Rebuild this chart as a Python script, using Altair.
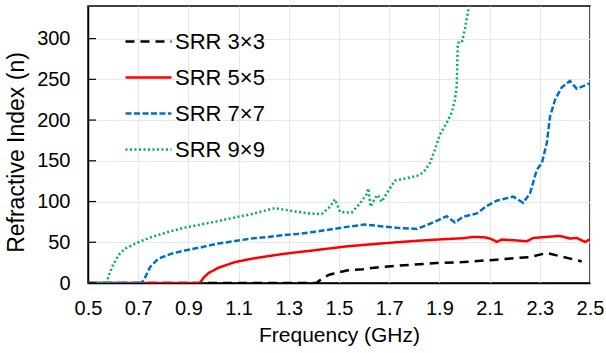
import altair as alt
import pandas as pd

series_names = ["SRR 3×3", "SRR 5×5", "SRR 7×7", "SRR 9×9"]

f_3 = [0.5, 1.41, 1.437, 1.464, 1.531, 1.597, 1.663, 1.73, 1.796, 1.889, 1.995, 2.128, 2.261, 2.328, 2.394, 2.467]
n_3 = [0, 0, 6.4, 10.5, 15.4, 17, 19.5, 21.2, 22.5, 24.4, 25.7, 28.6, 31.9, 36.8, 31.9, 26.5]

f_5 = [0.5, 0.946, 0.96, 0.979, 1.019, 1.086, 1.152, 1.218, 1.285, 1.398, 1.531, 1.663, 1.796, 1.902,
       1.995, 2.035, 2.08, 2.102, 2.12, 2.128, 2.148, 2.194, 2.248, 2.274, 2.328, 2.38, 2.42, 2.447, 2.48, 2.5]
n_5 = [0, 0, 6.4, 12, 18.7, 25.7, 29.8, 33, 36, 40, 45, 48.4, 51.5, 53.5,
       55, 56.6, 56, 54.5, 52, 50.4, 53.3, 52.5, 51.2, 55.3, 56.6, 57.8, 54.5, 55.3, 50.4, 53.7]

f_7 = [0.5, 0.714, 0.727, 0.747, 0.78, 0.833, 0.886, 0.953, 1.019, 1.086, 1.152, 1.218, 1.285, 1.331,
       1.398, 1.464, 1.531, 1.604, 1.663, 1.73, 1.81, 1.849, 1.896, 1.929, 1.962, 1.995, 2.049, 2.088,
       2.128, 2.194, 2.234, 2.261, 2.288, 2.308, 2.328, 2.341, 2.361, 2.387, 2.42, 2.447, 2.5]
n_7 = [0, 0, 6.4, 19.5, 29.8, 36, 40, 44, 48.4, 51.6, 54.6, 56.5, 59, 60,
       62.7, 65.7, 68.9, 71.8, 69.8, 67.7, 66.4, 71, 77.2, 82, 74.3, 81.3, 85.4, 94.4,
       101, 106, 98.5, 110, 139, 147, 172, 204.7, 225, 240, 248, 238.5, 245]

f_9 = [0.5, 0.574, 0.587, 0.601, 0.621, 0.647, 0.70, 0.754, 0.82, 0.886, 0.953, 1.019, 1.086, 1.152,
       1.218, 1.245, 1.265, 1.331, 1.384, 1.431, 1.464, 1.484, 1.504, 1.531, 1.551, 1.584, 1.61, 1.617,
       1.626, 1.643, 1.654, 1.67, 1.69, 1.723, 1.77, 1.81, 1.836, 1.862, 1.882, 1.902, 1.929, 1.949,
       1.962, 1.969, 1.971, 1.973, 1.978, 1.991, 2.002, 2.011, 2.018, 2.03]
n_9 = [0, 0, 13, 23, 34, 42, 50, 56.5, 62.7, 68, 72, 76, 80.5, 84.6,
       90, 92, 90.7, 87.4, 85.4, 84.6, 93.6, 102.7, 87.4, 86.6, 86.6, 97.8, 109, 116,
       93.6, 104, 108, 99.8, 110, 125.7, 128.6, 131.5, 135.6, 147, 163.6, 182, 196.5, 209,
       225, 241.7, 266, 291, 297, 297, 312, 328, 340, 360]

x_ticks = [0.5, 0.7, 0.9, 1.1, 1.3, 1.5, 1.7, 1.9, 2.1, 2.3, 2.5]
y_ticks = [0, 50, 100, 150, 200, 250, 300]

colors = ["#000000", "#FF0000", "#0070C0", "#00B050"]
dashes = [[9, 6], [1, 0], [6, 2.5], [2, 2.5]]

rows = []
for name, fs, ns in zip(series_names, [f_3, f_5, f_7, f_9], [n_3, n_5, n_7, n_9]):
    for f, n in zip(fs, ns):
        rows.append({"series": name, "freq": f, "n": n})
df = pd.DataFrame(rows)
ticks_df = pd.DataFrame({"n": y_ticks})

FONT = "Liberation Sans"

x_enc = alt.X("freq:Q", title="Frequency (GHz)",
              scale=alt.Scale(domain=[0.5, 2.5], nice=False, zero=False),
              axis=alt.Axis(values=x_ticks, format=".1f", labelPadding=15, ticks=False,
                            labelFlush=False, labelOverlap=False,
                            titlePadding=6, titleFontSize=21))
y_scale = alt.Scale(domain=[0, 340], nice=False)

lines = alt.Chart(df).mark_line(strokeWidth=2.5, clip=True).encode(
    x=x_enc,
    y=alt.Y("n:Q", title="Refractive Index (n)", scale=y_scale,
            axis=alt.Axis(values=y_ticks, ticks=False, labelPadding=18, titlePadding=8,
                          titleFontSize=23, titleY=146, labelOverlap=False)),
    color=alt.Color("series:N", scale=alt.Scale(domain=series_names, range=colors),
                    legend=alt.Legend(title=None, orient="none", legendX=36, legendY=11,
                                      symbolType="stroke", symbolSize=2116,
                                      symbolStrokeWidth=2.5, labelFontSize=22,
                                      labelFont=FONT, labelColor="#000000",
                                      rowPadding=-4.5, labelOffset=2, padding=0)),
    strokeDash=alt.StrokeDash("series:N", scale=alt.Scale(domain=series_names, range=dashes),
                              legend=None),
    order=alt.Order("freq:Q"),
)

inner_ticks = alt.Chart(ticks_df).mark_rule(color="#000000", strokeWidth=1.2).encode(
    x=alt.value(0), x2=alt.value(8),
    y=alt.Y("n:Q", scale=y_scale),
)

chart = alt.layer(lines, inner_ticks).properties(
    width=502, height=277,
    background="#ffffff",
    autosize=alt.AutoSizeParams(type="none"),
    padding={"left": 88, "top": 6, "right": 16, "bottom": 70},
).configure_view(
    stroke="#000000", strokeWidth=1.5
).configure_axis(
    labelFont=FONT, titleFont=FONT, labelFontSize=20, titleFontSize=21,
    labelColor="#000000", titleColor="#000000", titleFontWeight="normal",
    domainColor="#000000", domainWidth=1.5, gridColor="#E8E8E8", gridWidth=1.2,
).configure_legend(
    labelFont=FONT, labelFontSize=22, labelColor="#000000", labelLimit=300,
)

chart.save("out.html", embed_options={"renderer": "svg", "actions": False})
